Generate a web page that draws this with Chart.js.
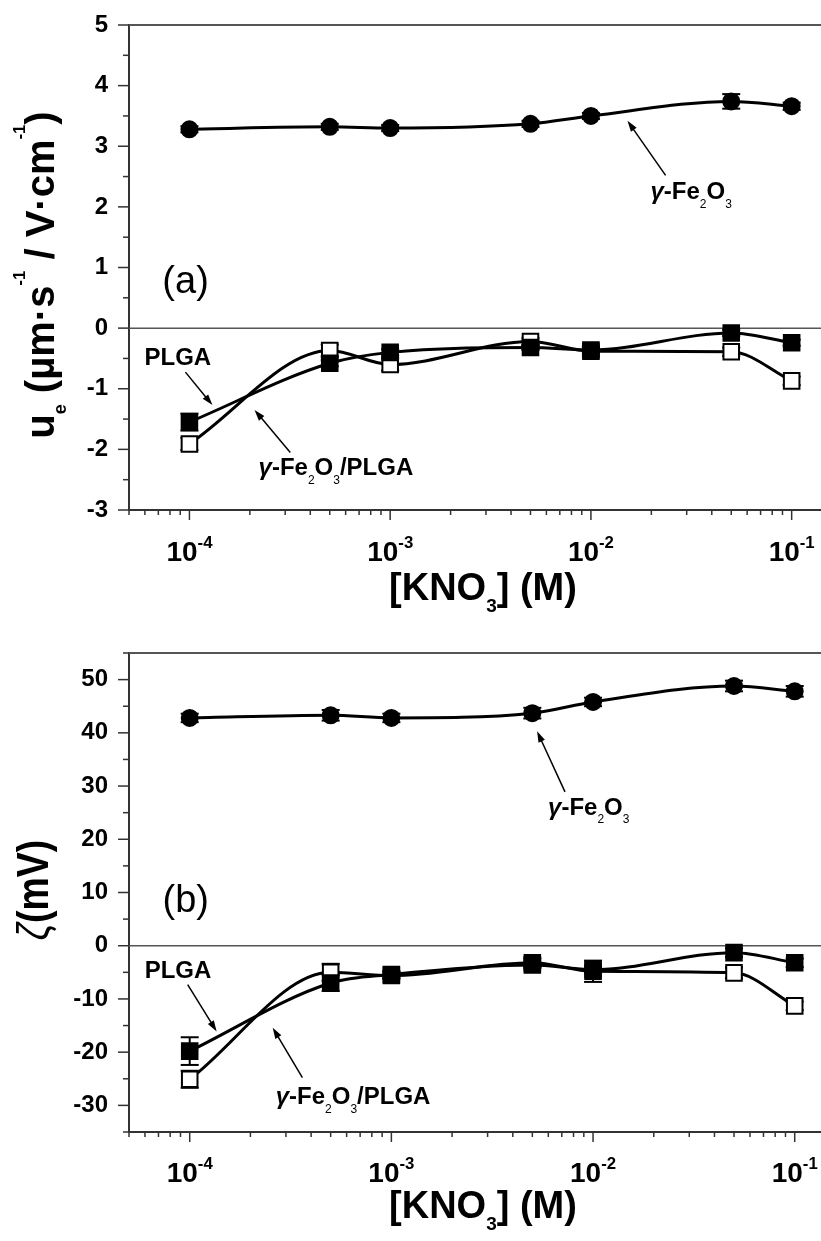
<!DOCTYPE html>
<html>
<head>
<meta charset="utf-8">
<script src="https://cdn.jsdelivr.net/npm/chart.js@4.4.1/dist/chart.umd.min.js"></script>
<style>
    body { margin: 0; background: #fff; }
    canvas { display: block; }
</style>
</head>
<body>
<canvas id="graficoMovilidad" width="821" height="620"></canvas>
<canvas id="graficoZeta" width="821" height="621"></canvas>
<script>
const FAMILIA = '"Liberation Sans", Arial, Helvetica, sans-serif';

// [KNO3] (M)
const concentraciones = [1e-4, 5e-4, 1e-3, 5e-3, 1e-2, 5e-2, 1e-1];
const exponentesX = [-4, -3, -2, -1];

// (a) movilidad electroforetica, um s-1 / V cm-1
const ueFe2O3 = [3.28, 3.32, 3.30, 3.37, 3.50, 3.74, 3.66];
const ueFe2O3Err = [0.05, 0.05, 0.05, 0.05, 0.05, 0.12, 0.06];
const uePLGA = [-1.55, -0.58, -0.40, -0.32, -0.36, -0.08, -0.24];
const uePLGAErr = [0.14, 0.05, 0.05, 0.04, 0.05, 0.05, 0.05];
const ueMixto = [-1.91, -0.37, -0.60, -0.22, -0.38, -0.39, -0.87];
const ueMixtoErr = [0.10, 0.10, 0.10, 0.06, 0.08, 0.07, 0.07];

// (b) potencial zeta, mV
const zFe2O3 = [42.8, 43.3, 42.8, 43.7, 45.8, 48.8, 47.8];
const zFe2O3Err = [0.8, 1.0, 0.8, 1.0, 0.8, 1.0, 1.0];
const zPLGA = [-19.8, -7.0, -5.4, -3.6, -4.5, -1.3, -3.2];
const zPLGAErr = [2.6, 1.5, 0.6, 0.6, 0.6, 0.8, 0.8];
const zMixto = [-25.1, -5.0, -5.6, -3.2, -4.8, -5.1, -11.3];
const zMixtoErr = [1.6, 1.6, 0.6, 0.8, 2.0, 1.0, 0.8];

const TXT_FE2O3 = [['γ', '', 'italic bold'], ['-Fe'], ['2', 'sub', 'normal'], ['O'], ['3', 'sub', 'normal']];
const TXT_PLGA = [['PLGA']];
const TXT_MIXTO = [['γ', '', 'italic bold'], ['-Fe'], ['2', 'sub', 'normal'], ['O'], ['3', 'sub', 'normal'], ['/PLGA']];

const extras = {
    graficoMovilidad: {
        errores: [ueFe2O3Err, uePLGAErr, ueMixtoErr],
        mayor: 1,
        baseEtiquetas: 561,
        baseTituloX: 600,
        tituloY: { partes: [['u'], ['e', 'sub'], [' (µm·s'], ['-1', 'sup'], [' / V·cm'], ['-1', 'sup'], [')']],
                   x: 54, y: 275, tam: 40, escala: 1 },
        letra: { texto: '(a)', x: 7.33e-5, y: 0.58 },
        notas: [
            { partes: TXT_FE2O3, x: 0.0198, y: 2.13, desde: [0.02355, 2.52], hasta: [0.01521, 3.42] },
            { partes: TXT_PLGA, x: 5.97e-5, y: -0.61, desde: [9.55e-5, -0.726], hasta: [1.302e-4, -1.27] },
            { partes: TXT_MIXTO, x: 2.21e-4, y: -2.43, desde: [3.18e-4, -2.05], hasta: [2.11e-4, -1.35] }
        ]
    },
    graficoZeta: {
        errores: [zFe2O3Err, zPLGAErr, zMixtoErr],
        mayor: 10,
        baseEtiquetas: 562,
        baseTituloX: 598,
        tituloY: { partes: [['ζ', '', 'italic'], ['(mV)']], x: 48, y: 270, tam: 44, escala: 0.85 },
        letra: { texto: '(b)', x: 7.33e-5, y: 6.4 },
        notas: [
            { partes: TXT_FE2O3, x: 0.005984, y: 24.6, desde: [0.00726, 28.9], hasta: [0.00528, 40.3] },
            { partes: TXT_PLGA, x: 5.98e-5, y: -6.0, desde: [9.77e-5, -7.3], hasta: [1.36e-4, -16.1] },
            { partes: TXT_MIXTO, x: 2.67e-4, y: -29.8, desde: [3.62e-4, -24.8], hasta: [2.58e-4, -15.4] }
        ]
    }
};

function dibujarTexto(ctx, partes, x, y, tam, alinear, cfg) {
    cfg = Object.assign({ subTam: 0.5, subDy: 0.35, supTam: 0.6, supDy: -0.46 }, cfg || {});
    const piezas = [];
    let ancho = 0;
    partes.forEach(function (p) {
        const tipo = p[1] || '';
        const estilo = p[2] || 'bold';
        let t = tam, dy = 0;
        if (tipo === 'sub') { t = tam * cfg.subTam; dy = tam * cfg.subDy; }
        if (tipo === 'sup') { t = tam * cfg.supTam; dy = tam * cfg.supDy; }
        const f = estilo + ' ' + t.toFixed(1) + 'px ' + FAMILIA;
        ctx.font = f;
        const w = ctx.measureText(p[0]).width;
        piezas.push({ texto: p[0], f: f, dy: dy, w: w });
        ancho += w;
    });
    let cx = alinear === 'center' ? x - ancho / 2 : x;
    ctx.textAlign = 'left';
    ctx.textBaseline = 'alphabetic';
    ctx.fillStyle = '#000';
    piezas.forEach(function (p) {
        ctx.font = p.f;
        ctx.fillText(p.texto, cx, y + p.dy);
        cx += p.w;
    });
}

function linea(ctx, x1, y1, x2, y2) {
    ctx.beginPath();
    ctx.moveTo(x1, y1);
    ctx.lineTo(x2, y2);
    ctx.stroke();
}

function flecha(ctx, x1, y1, x2, y2) {
    const ang = Math.atan2(y2 - y1, x2 - x1);
    const L = 11, W = 3.5;
    ctx.strokeStyle = '#000';
    ctx.lineWidth = 1.5;
    linea(ctx, x1, y1, x2 - L * 0.7 * Math.cos(ang), y2 - L * 0.7 * Math.sin(ang));
    ctx.beginPath();
    ctx.moveTo(x2, y2);
    ctx.lineTo(x2 - L * Math.cos(ang) + W * Math.sin(ang), y2 - L * Math.sin(ang) - W * Math.cos(ang));
    ctx.lineTo(x2 - L * Math.cos(ang) - W * Math.sin(ang), y2 - L * Math.sin(ang) + W * Math.cos(ang));
    ctx.closePath();
    ctx.fillStyle = '#000';
    ctx.fill();
}

const decoraciones = {
    id: 'decoraciones',
    beforeDatasetsDraw: function (chart) {
        const cfg = extras[chart.canvas.id];
        const ctx = chart.ctx, a = chart.chartArea, sx = chart.scales.x, sy = chart.scales.y;
        ctx.save();
        // linea del cero
        ctx.strokeStyle = '#555';
        ctx.lineWidth = 1.5;
        const y0 = sy.getPixelForValue(0);
        linea(ctx, a.left, y0, a.right, y0);
        // barras de error
        ctx.strokeStyle = '#000';
        ctx.lineWidth = 2;
        cfg.errores.forEach(function (err, i) {
            chart.data.datasets[i].data.forEach(function (p, j) {
                const px = sx.getPixelForValue(p.x);
                const arriba = sy.getPixelForValue(p.y + err[j]);
                const abajo = sy.getPixelForValue(p.y - err[j]);
                linea(ctx, px, arriba, px, abajo);
                linea(ctx, px - 9, arriba, px + 9, arriba);
                linea(ctx, px - 9, abajo, px + 9, abajo);
            });
        });
        ctx.restore();
    },
    afterDraw: function (chart) {
        const cfg = extras[chart.canvas.id];
        const ctx = chart.ctx, a = chart.chartArea, sx = chart.scales.x, sy = chart.scales.y;
        ctx.save();

        // marco superior
        ctx.strokeStyle = '#555';
        ctx.lineWidth = 2;
        linea(ctx, a.left, a.top, a.right, a.top);

        // marcas del eje y
        ctx.strokeStyle = '#333';
        ctx.lineWidth = 1.5;
        sy.ticks.forEach(function (t) {
            const py = sy.getPixelForValue(t.value);
            const largo = (Math.round(t.value / cfg.mayor) * cfg.mayor === t.value) ? 11 : 6;
            linea(ctx, a.left - largo, py, a.left, py);
        });

        // marcas del eje x (log)
        for (let d = -5; d <= -1; d++) {
            for (let m = 1; m <= 9; m++) {
                const v = m * Math.pow(10, d);
                if (v < sx.min || v > sx.max) continue;
                const px = sx.getPixelForValue(v);
                linea(ctx, px, a.bottom, px, a.bottom + (m === 1 ? 10 : 5));
            }
        }

        // etiquetas 10^n
        exponentesX.forEach(function (e) {
            const px = sx.getPixelForValue(Math.pow(10, e));
            dibujarTexto(ctx, [['10'], [String(e), 'sup']], px, cfg.baseEtiquetas, 28, 'center');
        });

        // titulo eje x
        dibujarTexto(ctx, [['[KNO'], ['3', 'sub'], ['] (M)']], (a.left + a.right) / 2 + 8, cfg.baseTituloX, 38, 'center',
            { subTam: 0.5, subDy: 0.32 });

        // titulo eje y
        const ty = cfg.tituloY;
        ctx.save();
        ctx.translate(ty.x, ty.y);
        ctx.rotate(-Math.PI / 2);
        ctx.scale(ty.escala, 1);
        dibujarTexto(ctx, ty.partes, 0, 0, ty.tam, 'center', { subTam: 0.45, subDy: 0.3, supTam: 0.42, supDy: -0.72 });
        ctx.restore();

        // letra del panel
        ctx.font = 'normal 38px ' + FAMILIA;
        ctx.fillStyle = '#000';
        ctx.textAlign = 'left';
        ctx.textBaseline = 'alphabetic';
        ctx.fillText(cfg.letra.texto, sx.getPixelForValue(cfg.letra.x), sy.getPixelForValue(cfg.letra.y));

        // notas con flecha
        cfg.notas.forEach(function (n) {
            dibujarTexto(ctx, n.partes, sx.getPixelForValue(n.x), sy.getPixelForValue(n.y), 24, 'left',
                { subTam: 0.5, subDy: 0.36 });
            flecha(ctx, sx.getPixelForValue(n.desde[0]), sy.getPixelForValue(n.desde[1]),
                sx.getPixelForValue(n.hasta[0]), sy.getPixelForValue(n.hasta[1]));
        });

        ctx.restore();
    }
};

function serie(etiqueta, valores, forma, radio, relleno) {
    return {
        label: etiqueta,
        data: concentraciones.map(function (c, i) { return { x: c, y: valores[i] }; }),
        borderColor: '#000',
        borderWidth: 3,
        cubicInterpolationMode: 'monotone',
        pointStyle: forma,
        pointRadius: radio,
        pointBackgroundColor: relleno,
        pointBorderColor: '#000',
        pointBorderWidth: 2
    };
}

function crearGrafico(id, series, ymin, ymax, paso, xmax, arriba, altoX) {
    const mayor = extras[id].mayor;
    const ctx = document.getElementById(id).getContext('2d');
    return new Chart(ctx, {
        type: 'line',
        data: { datasets: series },
        options: {
            responsive: false,
            animation: false,
            devicePixelRatio: 1,
            events: [],
            layout: { padding: { top: arriba, left: 0, right: 0, bottom: 0 }, autoPadding: false },
            plugins: { legend: { display: false }, tooltip: { enabled: false } },
            scales: {
                x: {
                    type: 'logarithmic',
                    min: 5e-5,
                    max: xmax,
                    grid: { display: false },
                    border: { display: true, color: '#333', width: 2 },
                    ticks: { display: false },
                    afterFit: function (s) {
                        s.height = altoX;
                        s.paddingLeft = 0;
                        s.paddingRight = 0;
                    }
                },
                y: {
                    min: ymin,
                    max: ymax,
                    grid: { display: false },
                    border: { display: true, color: '#333', width: 2 },
                    ticks: {
                        stepSize: paso,
                        maxTicksLimit: 100,
                        autoSkip: false,
                        padding: 13,
                        color: '#000',
                        font: { family: FAMILIA, size: 24, weight: 'bold' },
                        callback: function (v) { return Math.round(v / mayor) * mayor === v ? String(v) : ''; }
                    },
                    afterFit: function (s) {
                        s.width = 129;
                        s.paddingTop = 0;
                        s.paddingBottom = 0;
                    }
                }
            }
        },
        plugins: [decoraciones]
    });
}

crearGrafico('graficoMovilidad', [
    serie('γ-Fe2O3', ueFe2O3, 'circle', 8, '#000'),
    serie('PLGA', uePLGA, 'rect', 11, '#000'),
    serie('γ-Fe2O3/PLGA', ueMixto, 'rect', 11, '#fff')
], -3, 5, 0.5, 0.14, 25, 110);

crearGrafico('graficoZeta', [
    serie('γ-Fe2O3', zFe2O3, 'circle', 8, '#000'),
    serie('PLGA', zPLGA, 'rect', 11, '#000'),
    serie('γ-Fe2O3/PLGA', zMixto, 'rect', 11, '#fff')
], -35, 55, 5, 0.135, 33, 109);
</script>
</body>
</html>
